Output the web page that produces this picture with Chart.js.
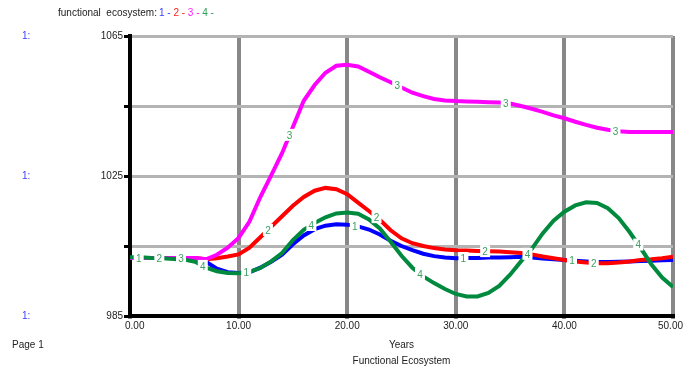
<!DOCTYPE html>
<html>
<head>
<meta charset="utf-8">
<script src="https://cdn.jsdelivr.net/npm/chart.js@4.4.1/dist/chart.umd.min.js"></script>
<style>
  html, body { margin: 0; padding: 0; background: #fff; }
  #wrap { position: relative; width: 684px; height: 371px; }
</style>
</head>
<body>
<div id="wrap"><canvas id="chart" width="684" height="371"></canvas></div>
<script>
// Years on the x axis
const years = [0,1,2,3,4,5,6,7,8,9,10,11,12,13,14,15,16,17,18,19,20,21,22,23,24,25,
  26,27,28,29,30,31,32,33,34,35,36,37,38,39,40,41,42,43,44,45,46,47,48,49,50];

// functional ecosystem 1..4
const eco1 = [1001.6,1001.6,1001.6,1001.6,1001.6,1001.6,1001.6,1000.5,998.5,997.5,997.3,
  997.5,998.8,1000.5,1002.5,1005.5,1008,1009.8,1010.8,1011.2,1011.1,1010.6,1009.7,1008.3,
  1006.5,1005,1003.8,1002.8,1002.1,1001.7,1001.5,1001.6,1001.6,1001.7,1001.7,1001.8,1001.9,
  1001.7,1001.4,1001.2,1001,1000.8,1000.6,1000.4,1000.4,1000.5,1000.6,1000.7,1000.8,1000.9,1001];
const eco2 = [1001.6,1001.6,1001.6,1001.6,1001.6,1001.6,1001.6,1001.2,1001.5,1002,1002.6,
  1004.5,1007.5,1010.5,1013.5,1016.5,1019,1020.8,1021.6,1021.2,1019.8,1017.4,1015,1012.5,
  1009.5,1007.2,1005.8,1005,1004.4,1004,1003.8,1003.7,1003.6,1003.5,1003.4,1003.2,1003,
  1002.6,1002,1001.5,1001,1000.6,1000.3,1000.1,1000.1,1000.3,1000.6,1001,1001.2,1001.5,1001.9];
const eco3 = [1001.6,1001.6,1001.6,1001.6,1001.6,1001.6,1001.6,1001.2,1002.5,1004.5,1007.3,
  1012,1019,1025.2,1031.5,1039,1046.5,1051,1054.5,1056.5,1056.8,1056.3,1054.8,1053.2,
  1051.8,1050.3,1048.8,1047.8,1047,1046.6,1046.4,1046.3,1046.2,1046.1,1046,1045.7,1045,
  1044.2,1043.3,1042.3,1041.5,1040.5,1039.6,1038.8,1038.2,1037.8,1037.6,1037.6,1037.6,1037.6,1037.6];
const eco4 = [1001.8,1001.8,1001.6,1001.5,1001.3,1001.1,1000.5,998.8,997.8,997.3,997.2,
  997.6,998.7,1000.6,1003,1006.7,1009.6,1011.6,1013.2,1014.3,1014.6,1014.2,1012.6,1010,
  1006.2,1002.2,998.8,996.3,994.4,992.7,991.3,990.6,990.6,991.6,993.6,996.8,1000.6,
  1004.2,1008.6,1012.2,1014.8,1016.6,1017.5,1017.3,1015.8,1013,1009,1004.5,999.8,996,993.3];

// y axis values that carry a label
const yLabelled = [985, 1025, 1065];

// where the small number tags sit on each line (years)
const tagYears = [
  [0.8, 10.7, 20.7, 30.7, 40.7],
  [2.7, 12.7, 22.7, 32.7, 42.7],
  [4.7, 14.7, 24.6, 34.6, 44.7],
  [6.7, 16.7, 26.7, 36.6, 46.8]
];

const FONT = '"Liberation Sans", Arial, sans-serif';
const colors = ['#0000ff', '#ff0000', '#ff00ff', '#008a3e'];
const legendColors = ['#3b3bff', '#ff2020', '#ff20ff', '#2aa05a'];
const tagColor = '#3aa060';

function valueAt(data, t) {
  const i = Math.min(Math.floor(t), data.length - 2);
  const f = t - i;
  return data[i] + (data[i + 1] - data[i]) * f;
}

const extras = {
  id: 'extras',
  afterDatasetsDraw(chart) {
    const ctx = chart.ctx;
    const xs = chart.scales.x, ys = chart.scales.y;
    ctx.save();
    ctx.font = '10px ' + FONT;
    ctx.textAlign = 'center';
    ctx.textBaseline = 'middle';
    chart.data.datasets.forEach((ds, k) => {
      tagYears[k].forEach(t => {
        const px = xs.getPixelForValue(t);
        const py = ys.getPixelForValue(valueAt(ds.data, t));
        ctx.fillStyle = '#fff';
        ctx.fillRect(px - 5, py - 6, 10, 12);
        ctx.fillStyle = tagColor;
        ctx.fillText(String(k + 1), px, py + 1);
      });
    });
    ctx.restore();
  },
  afterDraw(chart) {
    const ctx = chart.ctx;
    const xs = chart.scales.x, ys = chart.scales.y;
    const area = chart.chartArea;
    const mid = (area.left + area.right) / 2;
    ctx.save();
    ctx.font = '10px ' + FONT;
    ctx.textBaseline = 'middle';

    // legend line at the top
    let x = 58;
    ctx.textAlign = 'left';
    ctx.fillStyle = '#222';
    ctx.fillText('functional  ecosystem:', x, 13);
    x += ctx.measureText('functional  ecosystem:').width + 2;
    ['1', '2', '3', '4'].forEach((n, i) => {
      ctx.fillStyle = legendColors[i];
      const s = n + ' - ';
      ctx.fillText(s, x, 13);
      x += ctx.measureText(s).width;
    });

    // "1:" markers at the left
    ctx.fillStyle = '#3b3bff';
    yLabelled.forEach(v => {
      ctx.fillText('1:', 22, ys.getPixelForValue(v));
    });

    // x tick labels, kept inside the canvas
    ctx.fillStyle = '#222';
    ctx.textAlign = 'center';
    xs.ticks.forEach(tk => {
      const s = tk.value.toFixed(2);
      const w = ctx.measureText(s).width;
      let px = xs.getPixelForValue(tk.value);
      px = Math.max(area.left - 5 + w / 2, Math.min(px, chart.width - 1 - w / 2));
      ctx.fillText(s, px, area.bottom + 10);
    });

    ctx.textAlign = 'left';
    ctx.fillText('Page 1', 12, 345);
    ctx.textAlign = 'center';
    ctx.fillText('Years', mid, 345);
    ctx.fillText('Functional Ecosystem', mid, 361);
    ctx.restore();
  }
};

const mk = (label, data, i, order) => ({
  label: label,
  data: data,
  borderColor: colors[i],
  backgroundColor: colors[i],
  borderWidth: 4,
  pointRadius: 0,
  tension: 0,
  fill: false,
  order: order
});

new Chart(document.getElementById('chart'), {
  type: 'line',
  data: {
    labels: years,
    datasets: [
      mk('1', eco1, 0, 4),
      mk('2', eco2, 1, 3),
      mk('3', eco3, 2, 2),
      mk('4', eco4, 3, 1)
    ]
  },
  options: {
    responsive: false,
    animation: false,
    layout: { padding: { left: 0, right: 11, top: 36, bottom: 0 } },
    plugins: { legend: { display: false }, tooltip: { enabled: false } },
    scales: {
      x: {
        type: 'linear',
        min: 0,
        max: 50,
        afterFit: s => { s.height = 55; s.paddingLeft = 0; s.paddingRight = 0; },
        border: { color: '#000', width: 4 },
        grid: { color: '#888', lineWidth: 4, tickColor: '#888', tickLength: 3 },
        ticks: {
          stepSize: 10,
          maxRotation: 0,
          padding: 1,
          color: 'rgba(0,0,0,0)',
          font: { family: FONT, size: 10 },
          callback: v => v.toFixed(2)
        }
      },
      y: {
        min: 985,
        max: 1065,
        afterFit: s => { s.width = 130; s.paddingTop = 0; s.paddingBottom = 0; },
        border: { color: '#000', width: 4 },
        grid: { color: '#b4b4b4', lineWidth: 3, tickColor: '#000', tickLength: 6 },
        ticks: {
          stepSize: 20,
          padding: 1,
          color: '#222',
          font: { family: FONT, size: 10 },
          callback: v => (yLabelled.includes(v) ? String(v) : '')
        }
      }
    }
  },
  plugins: [extras]
});
</script>
</body>
</html>
